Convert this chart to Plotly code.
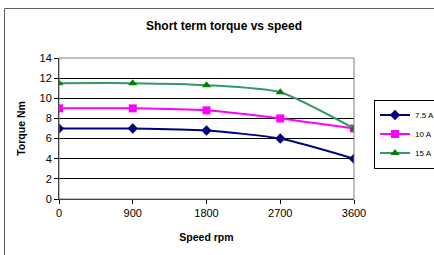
import plotly.graph_objects as go

speed = [0, 900, 1800, 2700, 3600]
torque_75 = [7, 7, 6.8, 6, 4]
torque_10 = [9, 9, 8.8, 8, 7]
torque_15 = [11.5, 11.5, 11.3, 10.6, 7]
names = ["7.5 A", "10 A", "15 A"]

W, H = 434, 255
L, R, T, B = 59, 80, 58, 56
pw, ph = W - L - R, H - T - B

def px(x):
    return (x - L) / pw

def py(y):
    return (H - B - y) / ph

fig = go.Figure()
fig.add_trace(go.Scatter(x=speed, y=torque_75, name=names[0], mode="lines+markers",
                         line=dict(color="#000080", width=2, shape="spline", smoothing=0.6),
                         marker=dict(symbol="diamond", size=8, color="#000080")))
fig.add_trace(go.Scatter(x=speed, y=torque_10, name=names[1], mode="lines+markers",
                         line=dict(color="#FF00FF", width=2, shape="spline", smoothing=0.6),
                         marker=dict(symbol="square", size=8, color="#FF00FF")))
fig.add_trace(go.Scatter(x=speed, y=torque_15, name=names[2], mode="lines+markers",
                         line=dict(color="#339966", width=2, shape="spline", smoothing=0.6),
                         marker=dict(symbol="triangle-up", size=8, color="#008000")))

fig.update_layout(
    width=W, height=H,
    margin=dict(l=L, r=R, t=T, b=B, autoexpand=False),
    paper_bgcolor="white", plot_bgcolor="white",
    font=dict(family="Liberation Sans, Arial, sans-serif", size=11, color="black"),
    title=dict(text="<b>Short term torque vs speed</b>", x=(224) / W, xanchor="center",
               y=1 - 26 / H, yanchor="middle", font=dict(size=12)),
    showlegend=True,
    legend=dict(x=px(374), y=py(134), xanchor="left", yanchor="middle",
                bordercolor="black", borderwidth=1, bgcolor="white",
                font=dict(size=8), itemwidth=30, tracegroupgap=0),
    shapes=[
        dict(type="line", xref="paper", yref="paper", x0=px(4.5), x1=px(4.5), y0=py(255), y1=py(8.5),
             line=dict(color="#606060", width=1), layer="above"),
        dict(type="line", xref="paper", yref="paper", x0=px(4.5), x1=px(434), y0=py(8.5), y1=py(8.5),
             line=dict(color="#606060", width=1), layer="above"),
        dict(type="rect", xref="paper", yref="paper", x0=0, x1=1, y0=0, y1=1,
             line=dict(color="#808080", width=1), layer="above"),
    ],
)
fig.update_xaxes(range=[0, 3600], tickvals=speed, ticktext=[str(s) for s in speed],
                 showgrid=False, zeroline=False, showline=True, linecolor="black",
                 ticks="outside", ticklen=4, tickcolor="black", automargin=False,
                 title=dict(text="<b>Speed rpm</b>", standoff=15, font=dict(size=10.5)))
fig.update_yaxes(range=[0, 14], dtick=2, showgrid=True, gridcolor="black", gridwidth=1,
                 zeroline=False, showline=True, linecolor="black", automargin=False,
                 ticks="outside", ticklen=4, tickcolor="black",
                 title=dict(text="<b>Torque Nm</b>", standoff=11, font=dict(size=10.5)))

fig.write_html("out.html", config={"displayModeBar": False},
               post_script="document.body.style.margin='0';document.body.style.padding='0';")
